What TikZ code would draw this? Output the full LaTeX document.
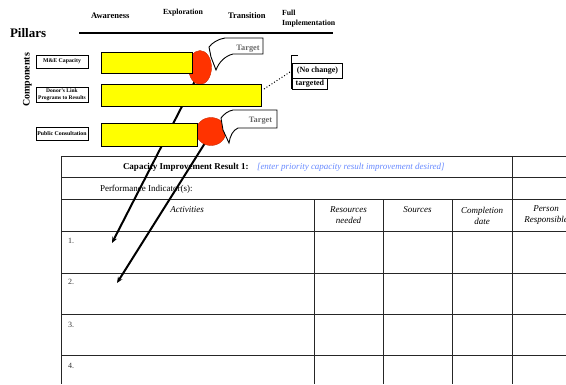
\documentclass[tikz,border=0pt]{standalone}
\usepackage{fontspec}
\setmainfont{Liberation Serif}
\usetikzlibrary{arrows.meta,shapes.geometric}
\definecolor{barYellow}{RGB}{255,255,0}
\definecolor{ovalRed}{RGB}{255,51,0}
\definecolor{noteBlue}{RGB}{102,136,255}
\definecolor{tagGray}{RGB}{105,105,105}
\tikzset{
  txt/.style={inner sep=0pt, outer sep=0pt},
  stage/.style={txt, font=\fontsize{8.5}{10}\selectfont\bfseries},
  cbox/.style={draw, line width=0.9pt, fill=white, inner sep=0pt, align=center,
    minimum width=52pt, font=\fontsize{5.8}{6.6}\selectfont\bfseries},
  bar/.style={draw, line width=1pt, fill=barYellow, anchor=north west, inner sep=0pt},
  oval/.style={draw=ovalRed!80!black, line width=0.4pt, fill=ovalRed, ellipse, inner sep=0pt},
  callout/.style={draw, line width=0.9pt, fill=white, line join=miter},
  tagtxt/.style={txt, font=\fontsize{8.3}{10}\selectfont\bfseries, text=tagGray},
  notebox/.style={draw, line width=0.9pt, fill=white, inner sep=0pt,
    font=\fontsize{8}{10}\selectfont\bfseries},
  bigarrow/.style={line width=2pt, -{Stealth[length=6pt,width=5pt]}},
  grid/.style={line width=0.9pt, black!85},
  tbl/.style={txt, font=\fontsize{9}{11}\selectfont},
  hdr/.style={txt, align=center, font=\fontsize{9}{11}\selectfont\itshape},
  num/.style={txt, font=\fontsize{8}{10}\selectfont, text=black!80}
}
\begin{document}
\begin{tikzpicture}[x=1pt,y=-1pt]
\useasboundingbox (0,0) rectangle (566,384);
\begin{scope}
\clip (0,0) rectangle (566,384);

% ---------- planning table ----------
\foreach \yy in {156,177,199,231,273,314,355}
  \draw[grid] (61,\yy) -- (566,\yy);
\draw[grid] (61,156) -- (61,384);
\draw[grid] (512,156) -- (512,384);
\foreach \xx in {314,383,452}
  \draw[grid] (\xx,199) -- (\xx,384);

\node[tbl, anchor=base west, font=\fontsize{9}{11}\selectfont\bfseries] (result) at (123,169.5) {Capacity Improvement Result 1:};
\node[tbl, anchor=base west, font=\fontsize{9}{11}\selectfont\itshape, text=noteBlue] (resultnote) at (257,169.5) {[enter priority capacity result improvement desired]};
\node[tbl, anchor=base west] (indicator) at (100,191) {Performance Indicator(s):};
\node[hdr] (hact) at (187,210) {Activities};
\node[hdr] (hres) at (348.5,215.5) {Resources\\needed};
\node[hdr] (hsrc) at (417.5,210) {Sources};
\node[hdr] (hdate) at (482,215.5) {Completion\\date};
\node[hdr] (hperson) at (546,215.5) {Person\\Responsible};
\node[num] (n1) at (71,241) {1.};
\node[num] (n2) at (71,282) {2.};
\node[num] (n3) at (71,325) {3.};
\node[num] (n4) at (71,366) {4.};

% ---------- arrows down into the activity rows ----------
\coordinate (a1s) at (197,77);
\coordinate (a1e) at (112,243);
\coordinate (a2s) at (205,143);
\coordinate (a2e) at (117,283);
\draw[bigarrow] (a1s) -- (a1e);
\draw[bigarrow] (a2s) -- (a2e);

% ---------- heading ----------
\node[txt, anchor=base west, font=\fontsize{13}{15}\selectfont\bfseries] (pillars) at (10,37) {Pillars};
\node[stage, anchor=base west] (aware) at (91,18) {Awareness};
\node[stage, anchor=base west, font=\fontsize{7.8}{10}\selectfont\bfseries] (explore) at (163,14) {Exploration};
\node[stage, anchor=base west] (trans) at (228,18) {Transition};
\node[stage, anchor=north west, align=left, font=\fontsize{7.8}{10.5}\selectfont\bfseries] (full) at (282,10) {Full\\Implementation};
\draw[line width=2pt] (79,33) -- (333,33);

\node[txt, rotate=90, font=\fontsize{10}{12}\selectfont\bfseries] (comp) at (27.5,80) {Components};

% ---------- component boxes ----------
\node[cbox, minimum height=13pt] (bx1) at (62,61.5) {M\&E Capacity};
\node[cbox, minimum height=15pt, font=\fontsize{5.5}{6.4}\selectfont\bfseries] (bx2) at (62,94.5) {Donor's Link\\Programs to Results};
\node[cbox, minimum height=13pt] (bx3) at (62,133.5) {Public Consultation};

% ---------- target ovals and progress bars ----------
\node[oval, minimum width=23pt, minimum height=34pt] (ov1) at (200,67.5) {};
\node[oval, minimum width=30pt, minimum height=28pt] (ov2) at (211,131.5) {};
\node[bar, minimum width=91pt, minimum height=21pt] (bar1) at (101,52) {};
\node[bar, minimum width=160pt, minimum height=22pt] (bar2) at (101,84) {};
\node[bar, minimum width=96pt, minimum height=23pt] (bar3) at (101,123) {};

% ---------- "Target" callouts ----------
\draw[callout] (263,38) -- (225,38) .. controls (218,39) and (212,43) .. (209,47)
  -- (211,57) -- (216,70) .. controls (219,62) and (225,56) .. (233,54)
  -- (263,54) -- cycle;
\node[tagtxt] (tag1) at (248,49) {Target};
\draw[callout] (277,110) -- (233,110) .. controls (228,111) and (224,114) .. (221,118)
  -- (223,130) -- (229,143) .. controls (230,136) and (233,130) .. (238,128)
  -- (277,128) -- cycle;
\node[tagtxt] (tag2) at (260.5,121) {Target};

% ---------- "(No change) targeted" note ----------
\coordinate (dotEnd) at (290,72);
\draw[line width=1pt, dotted] (264,89) -- (dotEnd);
\node[notebox, anchor=north west, minimum width=50pt, minimum height=15pt] (nc1) at (292,63) {(No change)};
\node[notebox, anchor=north west, minimum width=35pt, minimum height=11pt] (nc2) at (292,78) {targeted};
\draw[line width=0.9pt] (298,55) -- (291,55) -- (291,89);

\end{scope}
\end{tikzpicture}
\end{document}
